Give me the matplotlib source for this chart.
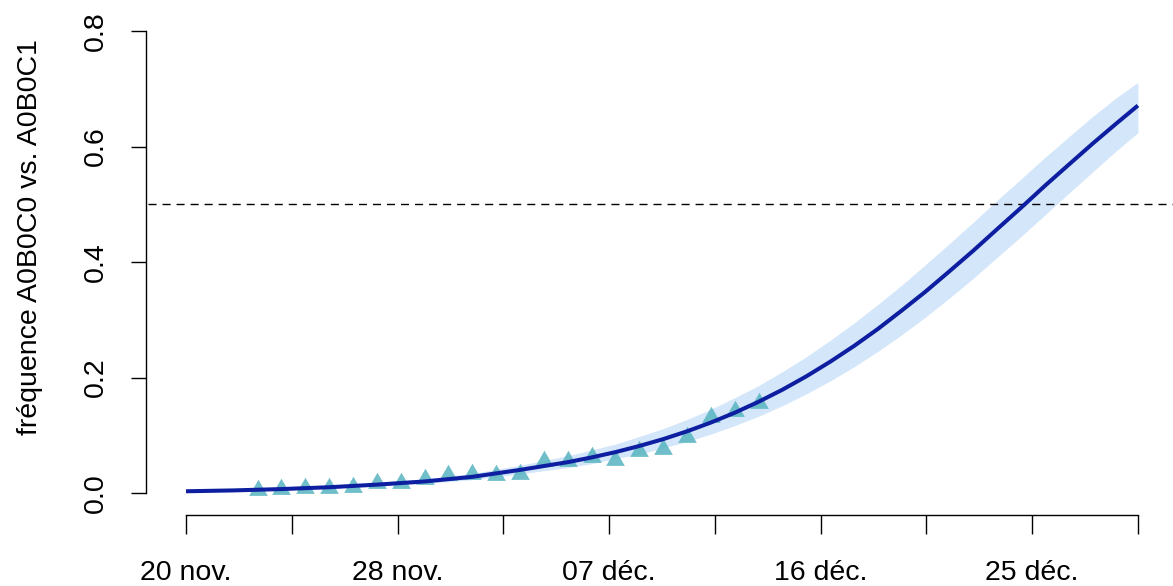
import numpy as np
import matplotlib.pyplot as plt

plt.rcParams['font.family'] = ['Liberation Sans', 'DejaVu Sans']

# fitted frequency (days since 20 nov.) and its confidence band
days = [0, 2, 4, 6, 8, 10, 12, 14, 16, 17, 18, 19, 20, 21,
        22, 23, 24, 25, 26, 27, 28, 29, 30, 31, 32, 33, 34, 35, 36, 37, 38, 39, 39.9]
fit = [0.003, 0.0045, 0.0068, 0.010, 0.0145, 0.020, 0.028, 0.040, 0.0534, 0.0616, 0.0708,
       0.0814, 0.0933, 0.1068, 0.122, 0.139, 0.158, 0.1789, 0.202, 0.2273, 0.2546, 0.2841,
       0.316, 0.3489, 0.384, 0.4197, 0.457, 0.494, 0.532, 0.5686, 0.605, 0.6401, 0.671]
fit_lo = [0.0025, 0.0037, 0.0056, 0.0082, 0.0119, 0.0165, 0.0231, 0.033, 0.0442, 0.0507, 0.0596,
          0.0674, 0.078, 0.0891, 0.102, 0.1167, 0.133, 0.1513, 0.1716, 0.194, 0.2185, 0.2453,
          0.274, 0.3049, 0.3376, 0.3719, 0.408, 0.4442, 0.4815, 0.519, 0.556, 0.5929, 0.624]
fit_hi = [0.0037, 0.0055, 0.0083, 0.0122, 0.0176, 0.0244, 0.034, 0.048, 0.0645, 0.0747, 0.0847,
          0.0979, 0.1115, 0.1274, 0.145, 0.165, 0.186, 0.2102, 0.236, 0.2643, 0.2944, 0.3265,
          0.360, 0.3956, 0.432, 0.469, 0.507, 0.5439, 0.581, 0.6168, 0.652, 0.6848, 0.711]

# observed daily frequencies
obs_days = [3, 4, 5, 6, 7, 8, 9, 10, 11, 12, 13,
            14, 15, 16, 17, 18, 19, 20, 21, 22, 23, 24]
obs_freq = [0.006, 0.0065, 0.008, 0.009, 0.0107, 0.017, 0.0168, 0.0235, 0.031, 0.0335, 0.0314,
            0.0331, 0.055, 0.055, 0.063, 0.058, 0.0724, 0.076, 0.097, 0.132, 0.1416, 0.156]

tick_days = [0, 4.43, 8.87, 13.3, 17.73, 22.17, 26.6, 31.03, 35.47, 39.9]
tick_labels = ['20 nov.', '', '28 nov.', '', '07 déc.', '', '16 déc.', '', '25 déc.', '']
y_ticks = [0.0, 0.2, 0.4, 0.6, 0.8]

W, H = 1173, 586
fig = plt.figure(figsize=(W / 100, H / 100), dpi=100)
ax = fig.add_axes([148 / W, (H - 512) / H, (W - 148) / W, 500 / H])

ax.fill_between(days, fit_lo, fit_hi, color='#d4e6fa', lw=0, zorder=1)
ax.axhline(0.5, color='black', lw=1.0, dashes=(5.8, 4.3), zorder=2)
ax.plot(obs_days, obs_freq, ls='none', marker=(3, 0, 0), ms=15.5,
        color='#5fb7c3', alpha=0.9, mec='none', zorder=3)
ax.plot(days, fit, color='#0d1ea0', lw=2.9, solid_capstyle='butt', zorder=4)

ax.set_xlim(-1.593, 41.37)
ax.set_ylim(-0.0329, 0.833)

for s in ('top', 'right'):
    ax.spines[s].set_visible(False)
ax.spines['left'].set_bounds(0, 0.8)
ax.spines['left'].set_position(('outward', 1.5))
ax.spines['bottom'].set_bounds(0, 39.9)
ax.spines['bottom'].set_position(('outward', 2.2))
for s in ('left', 'bottom'):
    ax.spines[s].set_linewidth(1.0)

ax.set_xticks(tick_days)
ax.set_xticklabels(tick_labels, fontsize=20.5)
ax.set_yticks(y_ticks)
ax.set_yticklabels(['0.0', '0.2', '0.4', '0.6', '0.8'], fontsize=20.5,
                   rotation=90, va='center')
ax.tick_params(axis='x', length=13.7, width=1.0, pad=19)
ax.tick_params(axis='y', length=10.8, width=1.0, pad=16)

fig.text(30 / W, 1 - 237 / H, 'fréquence A0B0C0 vs. A0B0C1', rotation=90,
         ha='center', va='center', fontsize=20.5)

fig.savefig('out.png', dpi=100)
